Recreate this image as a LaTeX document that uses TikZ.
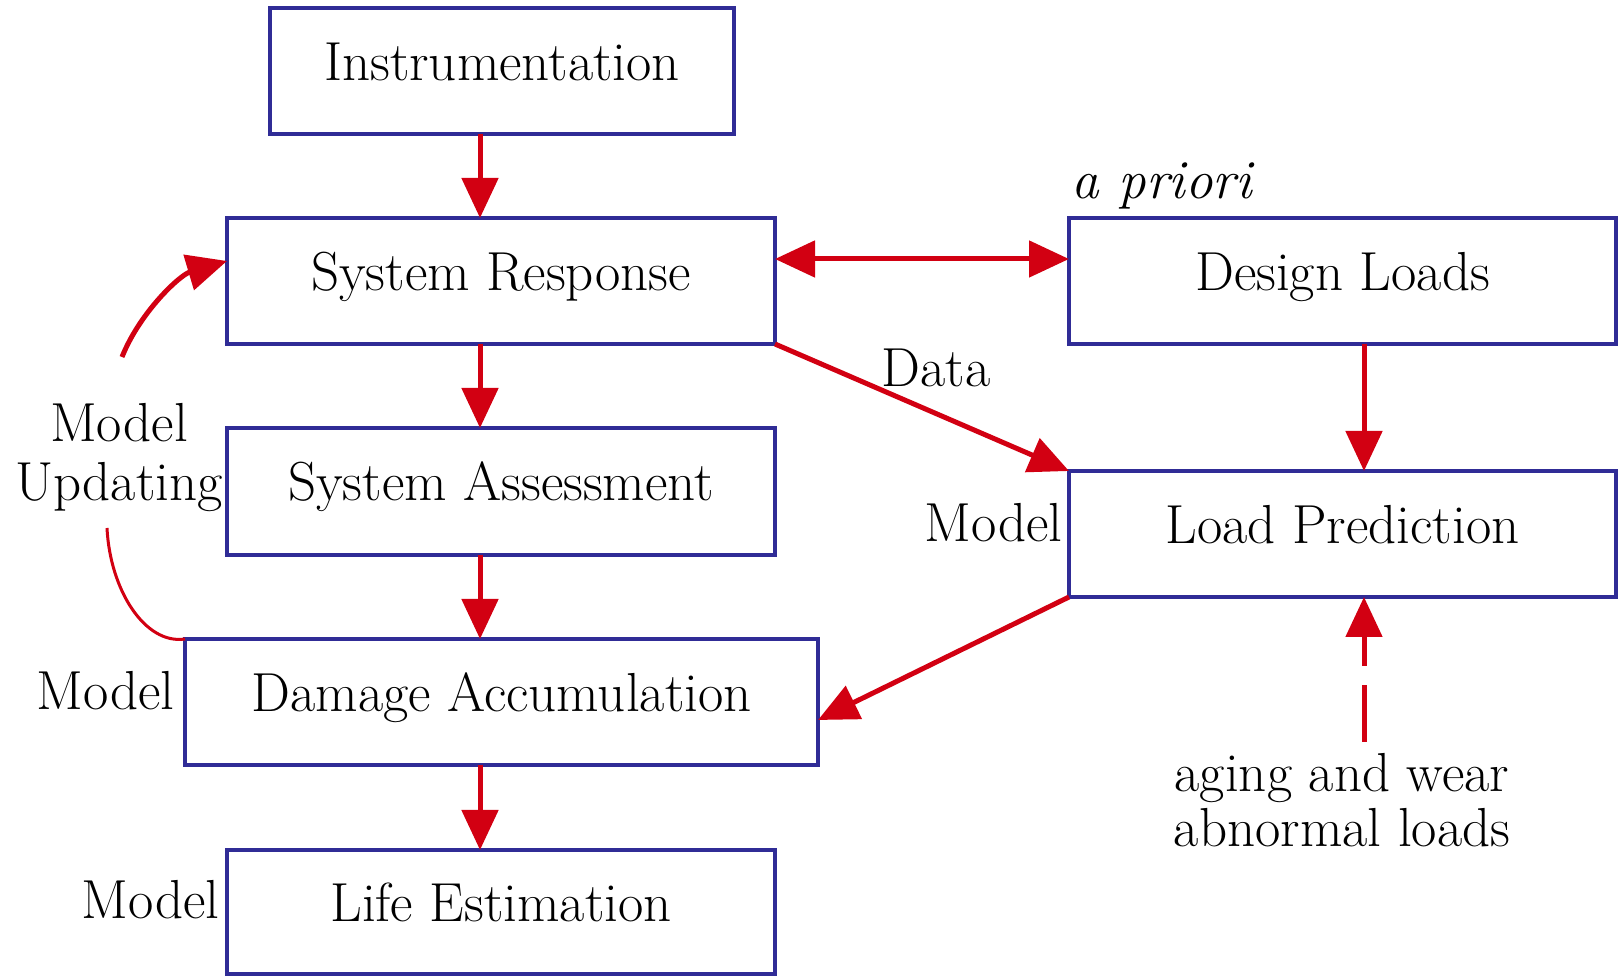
\documentclass[tikz,border=0pt]{standalone}
\usetikzlibrary{arrows.meta,calc}
\definecolor{boxblue}{RGB}{48,44,150}
\definecolor{arrred}{RGB}{210,0,18}
\newcommand\dgfont{\fontsize{27.5}{29.5}\selectfont}
\begin{document}
\begin{tikzpicture}[x=0.5pt,y=-0.5pt,
  box/.style={draw=boxblue, line width=2pt, inner sep=0pt, outer sep=0pt,
    font=\dgfont, text height=17.5pt, text depth=8pt, fill=white},
  lbl/.style={inner sep=0pt, font=\dgfont, align=center},
  arr/.style={draw=arrred, line width=2.5pt, -{Triangle[length=20pt,width=18pt]}},
  darr/.style={draw=arrred, line width=2.5pt, {Triangle[length=20pt,width=18pt]}-{Triangle[length=20pt,width=18pt]}},
]
\useasboundingbox (0,0) rectangle (1619,977);
\fill[white] (0,0) rectangle (1619,977);
\node[box, minimum width=232pt, minimum height=63pt] (inst) at (502,71) {Instrumentation};
\node[box, minimum width=274pt, minimum height=63pt] (sr) at (501,281) {System Response};
\node[box, minimum width=274pt, minimum height=63.5pt] (sa) at (501,491.5) {System Assessment};
\node[box, minimum width=316.5pt, minimum height=63pt] (da) at (501.5,702) {Damage Accumulation};
\node[box, minimum width=274pt, minimum height=62pt] (le) at (501,912) {Life Estimation};
\node[box, minimum width=273.5pt, minimum height=63pt] (dl) at (1342.5,281) {Design Loads};
\node[box, minimum width=273.5pt, minimum height=63pt] (lp) at (1342.5,534) {Load Prediction};

\coordinate (colL) at (480,0);
\coordinate (colR) at (1364,0);
\coordinate (rowT) at (0,259);
\coordinate (rowD) at (0,720);
\coordinate (dstart) at (1364,742);
\coordinate (c1s) at (122,357);
\coordinate (c2s) at (107,528);

\draw[arr] (inst.south -| colL) -- (sr.north -| colL);
\draw[arr] (sr.south -| colL) -- (sa.north -| colL);
\draw[arr] (sa.south -| colL) -- (da.north -| colL);
\draw[arr] (da.south -| colL) -- (le.north -| colL);
\draw[darr] (sr.east |- rowT) -- (dl.west |- rowT);
\draw[arr] (sr.south east) -- (lp.north west);
\draw[arr] (dl.south -| colR) -- (lp.north -| colR);
\draw[arr] (lp.south west) -- (da.east |- rowD);
\draw[arr, dash pattern=on 28.5pt off 9.5pt] (dstart) -- (lp.south -| colR);
\draw[arr] (c1s) .. controls (140,312) and (180,275) .. (sr.west |- 0,261);
\draw[draw=arrred, line width=1.5pt] (c2s) .. controls (110,590) and (145,645) .. (da.north west);

\node[lbl, anchor=base] (apriori) at (1162,199) {\itshape a priori};
\node[lbl, anchor=base] (data) at (936,387) {Data};
\node[lbl, anchor=base east] (mlp) at (1063,542) {Model};
\node[lbl, anchor=base east] (mda) at (175,710) {Model};
\node[lbl, anchor=base east] (mle) at (220,919) {Model};
\node[lbl, anchor=base] (mu1) at (119,442) {Model};
\node[lbl, anchor=base] (mu2) at (119,501) {Updating};
\node[lbl, anchor=base] (aw1) at (1342,792) {aging and wear};
\node[lbl, anchor=base] (aw2) at (1342,847) {abnormal loads};
\end{tikzpicture}
\end{document}
